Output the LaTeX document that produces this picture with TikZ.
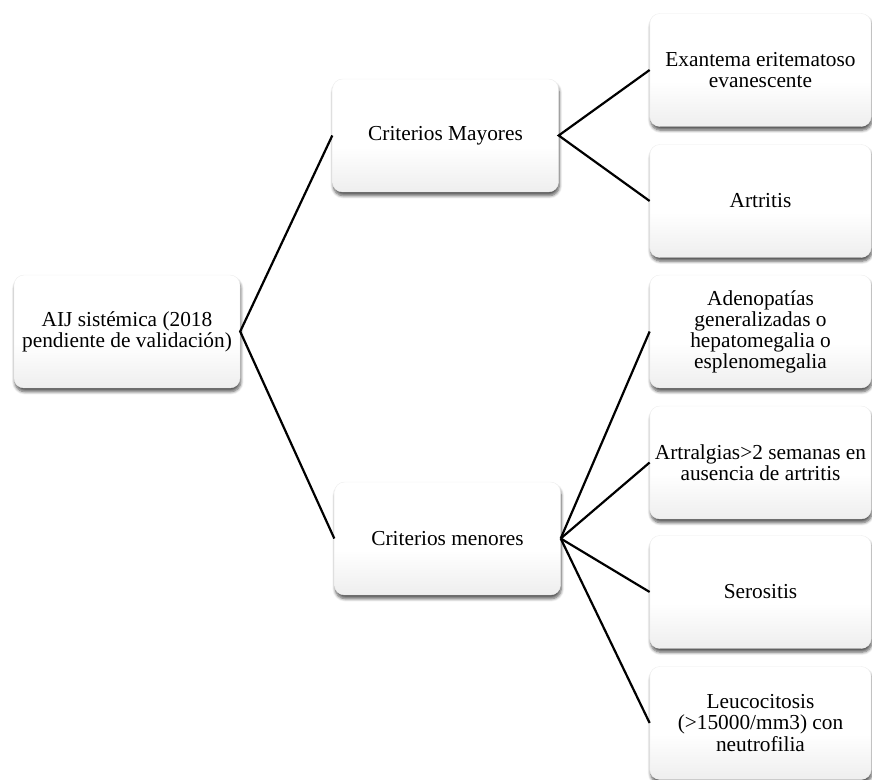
\documentclass[tikz,border=0pt]{standalone}
\usepackage{fontspec}
\setmainfont{Liberation Serif}
\usetikzlibrary{shadows.blur}
\pgfdeclareverticalshading{boxshade}{100bp}{color(0bp)=(black!15); color(45bp)=(white); color(100bp)=(white)}
\begin{document}
\begin{tikzpicture}[x=0.75pt,y=-0.75pt,
  box/.style={rectangle, rounded corners=7.5pt, minimum width=169.5pt, minimum height=84.75pt,
    inner sep=0pt, align=center, shading=boxshade, draw=black!7, line width=0.3pt,
    font=\fontsize{16}{15.8}\selectfont,
    blur shadow={shadow xshift=0.6pt, shadow yshift=-2.8pt, shadow blur steps=6, shadow blur radius=2.2pt, shadow opacity=65}},
  rbox/.style={box, minimum width=166pt},
  conn/.style={line width=1.65pt, black}]
\useasboundingbox (0,0) rectangle (872,780);
\node[box] (root) at (127,331.5) {AIJ sistémica (2018\\pendiente de validación)};
\node[box] (may) at (445.5,135.5) {Criterios Mayores};
\node[box] (men) at (447.5,538.5) {Criterios menores};
\node[rbox] (exa) at (760.5,70) {Exantema eritematoso\\evanescente};
\node[rbox] (art) at (760.5,201) {Artritis};
\node[rbox] (ade) at (760.5,331.5) {Adenopatías\\generalizadas o\\hepatomegalia o\\esplenomegalia};
\node[rbox] (arl) at (760.5,462.5) {Artralgias>2 semanas en\\ausencia de artritis};
\node[rbox] (ser) at (760.5,592) {Serositis};
\node[rbox] (leu) at (760.5,723) {Leucocitosis\\(>15000/mm3) con\\neutrofilia};
\draw[conn] (may.west) -- (root.east) -- (men.west);
\draw[conn] (exa.west) -- (may.east) -- (art.west);
\draw[conn] (men.east) -- (ade.west);
\draw[conn] (men.east) -- (arl.west);
\draw[conn] (men.east) -- (ser.west);
\draw[conn] (men.east) -- (leu.west);
\end{tikzpicture}
\end{document}
